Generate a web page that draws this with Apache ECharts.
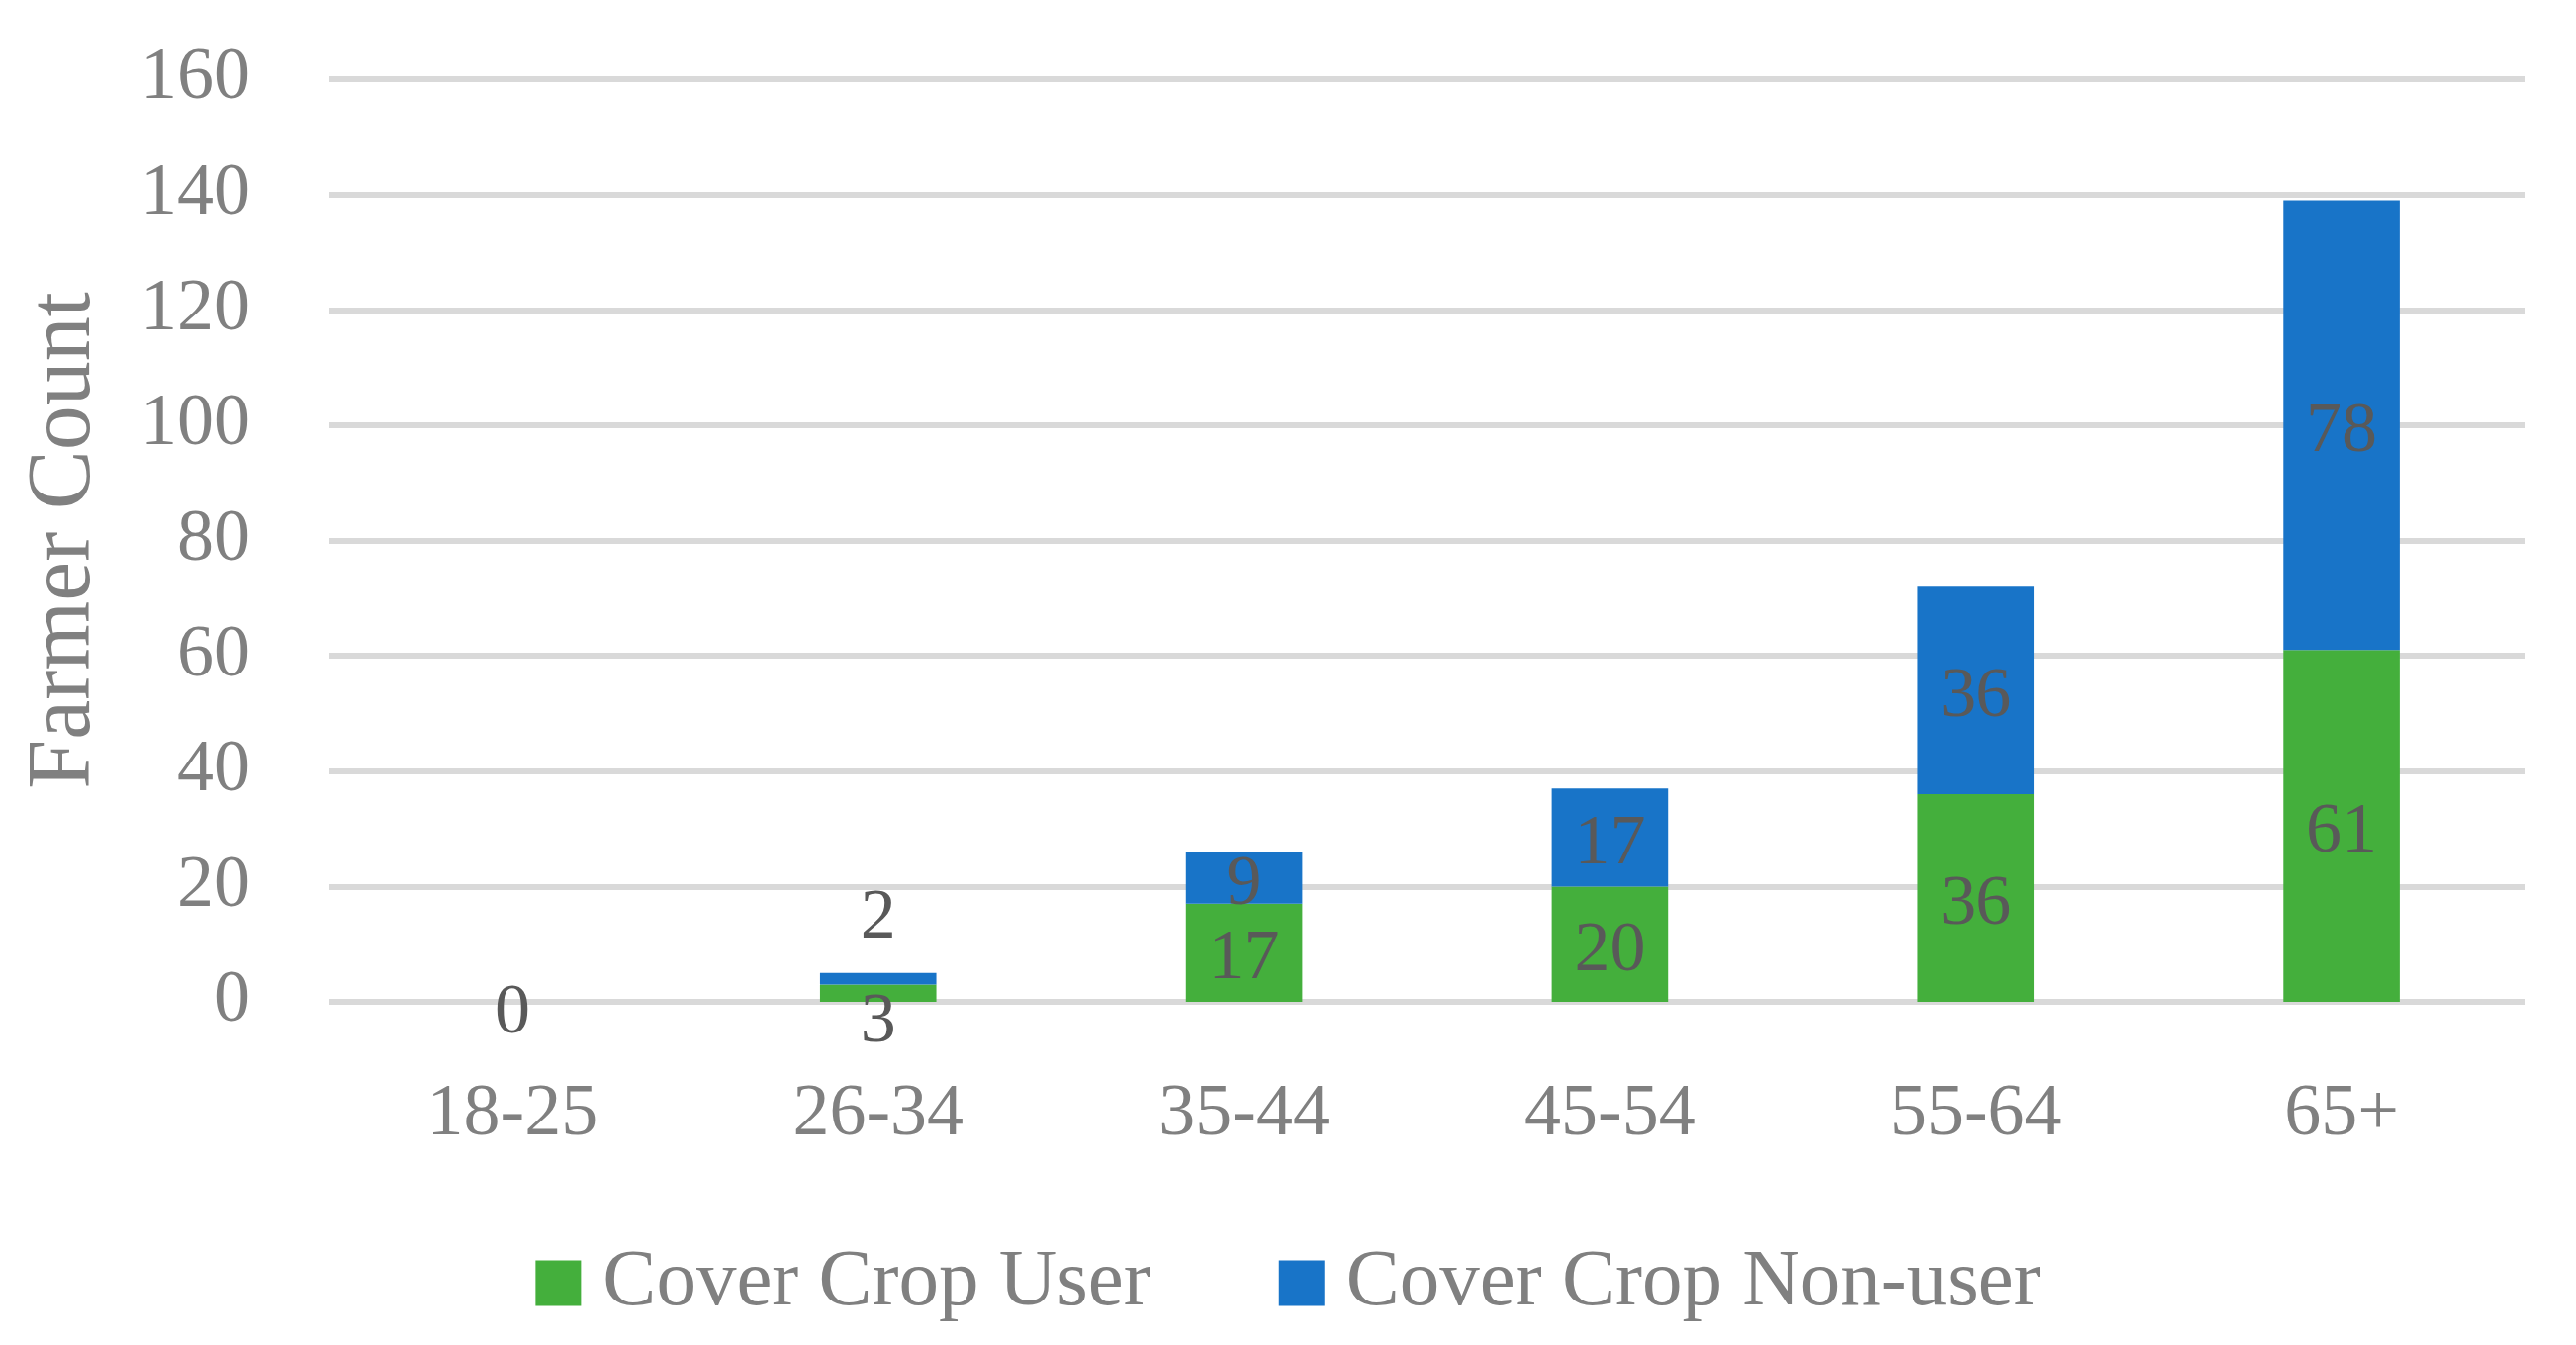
<!DOCTYPE html>
<html>
<head>
<meta charset="utf-8">
<script src="https://cdn.jsdelivr.net/npm/echarts@6/dist/echarts.min.js"></script>
<style>
html,body{margin:0;padding:0;background:#fff;}
#c{width:2604px;height:1360px;}
</style>
</head>
<body>
<div id="c"></div>
<script>
const categories = ['18-25', '26-34', '35-44', '45-54', '55-64', '65+'];
const userValues = [0, 3, 17, 20, 36, 61];
const nonUserValues = [0, 2, 9, 17, 36, 78];
const seriesNames = ['Cover Crop User', 'Cover Crop Non-user'];
const yTicks = { min: 0, max: 160, interval: 20 };

const FONT = '"Liberation Serif", "DejaVu Serif", serif';
const chart = echarts.init(document.getElementById('c'));

function userData() {
  return userValues.map((v, i) => {
    if (i === 0) return { value: v, label: { offset: [0, 12] } };
    if (i === 1) return { value: v, label: { offset: [0, 30] } };
    return v;
  });
}
function nonUserData() {
  return nonUserValues.map((v, i) => {
    if (i === 0) return { value: v, label: { show: false } };
    if (i === 1) return { value: v, label: { offset: [0, -61] } };
    return v;
  });
}

const labelStyle = {
  show: true,
  position: 'inside',
  offset: [0, 7],
  color: '#595959',
  fontFamily: FONT,
  fontSize: 72
};

chart.setOption({
  animation: false,
  backgroundColor: '#ffffff',
  grid: { left: 333, right: 52, top: 80, bottom: 347, containLabel: false },
  legend: {
    data: seriesNames,
    top: 1252,
    left: 'center',
    itemWidth: 46,
    itemHeight: 46,
    itemGap: 130,
    icon: 'rect',
    textStyle: { color: '#808080', fontFamily: FONT, fontSize: 81, padding: [0, 0, 0, 17] }
  },
  xAxis: {
    type: 'category',
    data: categories,
    axisLine: { show: false },
    axisTick: { show: false },
    axisLabel: { color: '#808080', fontFamily: FONT, fontSize: 74, margin: 78 }
  },
  yAxis: {
    type: 'value',
    min: yTicks.min,
    max: yTicks.max,
    interval: yTicks.interval,
    name: 'Farmer Count',
    nameLocation: 'middle',
    nameRotate: 90,
    nameGap: 222,
    nameTextStyle: { color: '#808080', fontFamily: FONT, fontSize: 90 },
    axisLine: { show: false },
    axisTick: { show: false },
    axisLabel: { color: '#808080', fontFamily: FONT, fontSize: 74, margin: 80 },
    splitLine: { lineStyle: { color: '#D9D9D9', width: 6 } }
  },
  series: [
    {
      name: seriesNames[0],
      type: 'bar',
      stack: 'total',
      barWidth: '31.8%',
      itemStyle: { color: '#44AF3C' },
      label: labelStyle,
      data: userData()
    },
    {
      name: seriesNames[1],
      type: 'bar',
      stack: 'total',
      barWidth: '31.8%',
      itemStyle: { color: '#1874C8' },
      label: labelStyle,
      data: nonUserData()
    }
  ]
});
</script>
</body>
</html>
